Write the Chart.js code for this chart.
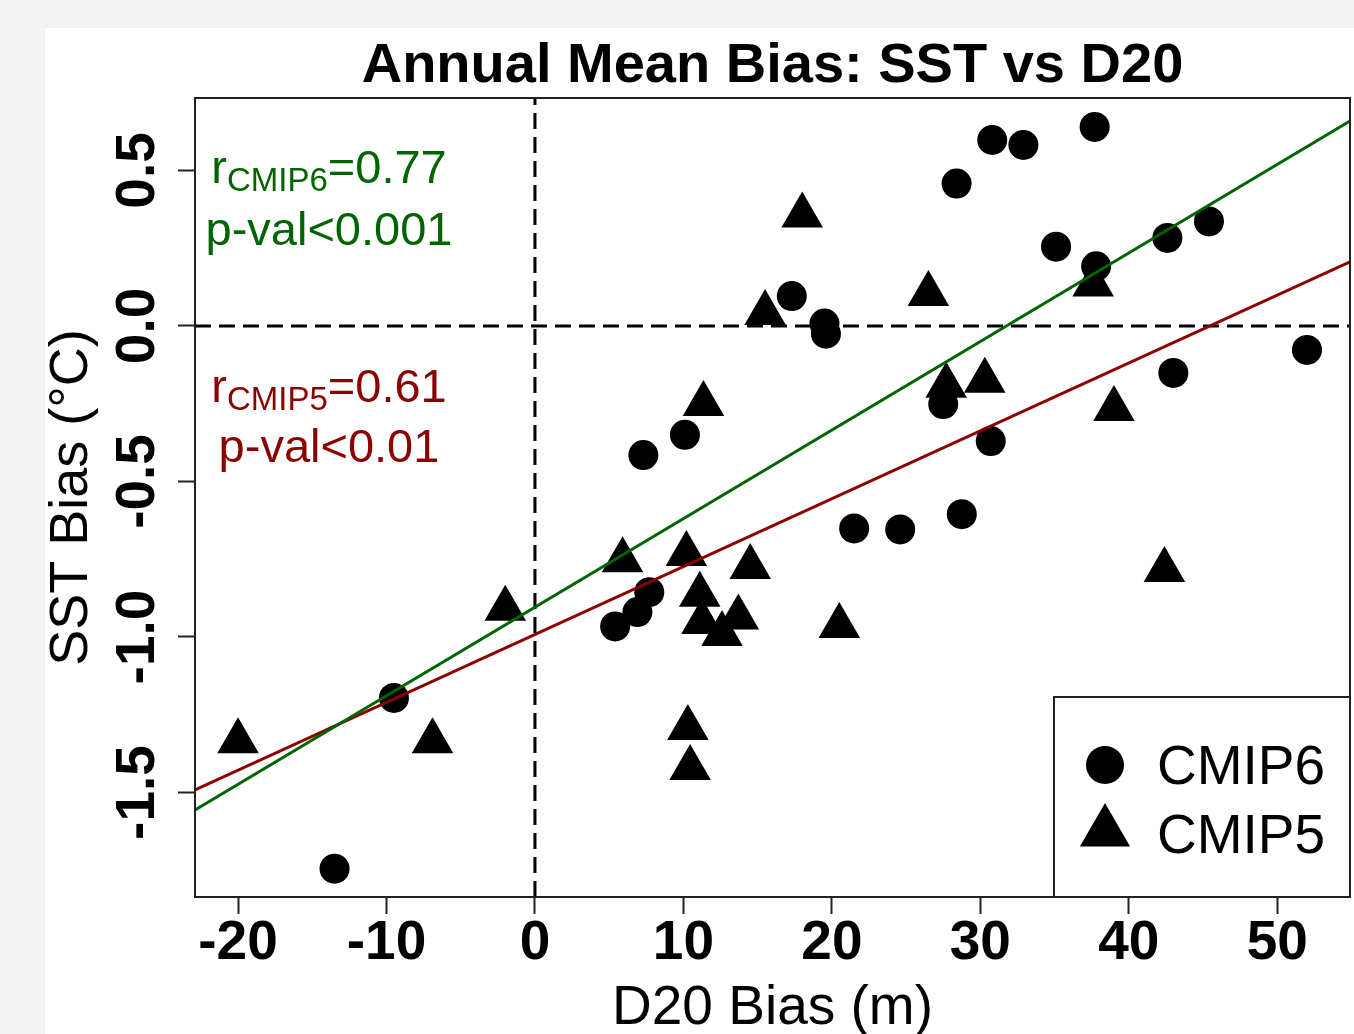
<!DOCTYPE html>
<html>
<head>
<meta charset="utf-8">
<script src="https://cdn.jsdelivr.net/npm/chart.js@4.4.1/dist/chart.umd.min.js"></script>
<style>
  html, body { margin: 0; padding: 0; background: #f2f2f2; overflow: hidden; }
  #panel { position: absolute; left: 45px; top: 28px; width: 1309px; height: 1006px; background: #fff; }
  #myChart { display: block; }
</style>
</head>
<body>
<div id="panel"><canvas id="myChart"></canvas></div>
<script>
// CMIP6 models (circles)
var cmip6X = [-13.5, -9.5, 5.4, 6.9, 7.7, 7.3, 10.1, 17.3, 19.5, 19.6, 21.5, 24.6, 28.4,
              28.75, 27.5, 30.7, 30.8, 32.9, 35.1, 37.7, 37.8, 42.6, 45.4, 43.0, 52.0];
var cmip6Y = [-1.745, -1.196, -0.966, -0.92, -0.856, -0.415, -0.350, 0.096, 0.008, -0.025, -0.651, -0.654, 0.458,
              -0.605, -0.251, -0.370, 0.598, 0.582, 0.255, 0.640, 0.192, 0.283, 0.336, -0.151, -0.077];

// CMIP5 models (triangles)
var cmip5X = [-20.0, -6.9, -2.0, 5.9, 10.2, 10.3, 10.45, 11.1, 11.25, 12.6, 13.7, 14.5, 11.35,
              15.5, 18.0, 20.5, 26.5, 27.7, 30.3, 37.6, 39.0, 42.4];
var cmip5Y = [-1.335, -1.335, -0.909, -0.753, -0.733, -1.293, -1.421, -0.864, -0.952, -0.990, -0.937, -0.775, -0.251,
              0.042, 0.355, -0.965, 0.103, -0.192, -0.176, 0.133, -0.267, -0.785];

// linear fits [CMIP6, CMIP5]
var fitSlope = [0.02847, 0.02182];
var fitIntercept = [-0.904, -0.992];
var fitColor = ['#006400', '#8b0000'];

var xTicks = [-20, -10, 0, 10, 20, 30, 40, 50];
var yTicks = [-1.5, -1.0, -0.5, 0.0, 0.5];
var xMin = -22.9, xMax = 54.9;
var yMin = -1.836, yMax = 0.733;

function pts(xs, ys) {
    return xs.map(function(x, i) { return {x: x, y: ys[i]}; });
}
function fitLine(k) {
    return [xMin, xMax].map(function(x) { return {x: x, y: fitIntercept[k] + fitSlope[k] * x}; });
}

var FONT = "'Liberation Sans', Arial, sans-serif";

var overlay = {
    id: 'overlay',
    afterDraw: function(chart) {
        var ctx = chart.ctx, a = chart.chartArea;
        ctx.save();
        // plot frame
        ctx.strokeStyle = '#222';
        ctx.lineWidth = 2;
        ctx.strokeRect(a.left, a.top, a.right - a.left, a.bottom - a.top);

        // correlation text
        function rLine(sub, val, color, cx, base) {
            ctx.fillStyle = color;
            ctx.textBaseline = 'alphabetic';
            ctx.textAlign = 'left';
            ctx.font = '47px ' + FONT;
            var w1 = ctx.measureText('r').width, w3 = ctx.measureText(val).width;
            ctx.font = '33px ' + FONT;
            var w2 = ctx.measureText(sub).width;
            var x = cx - (w1 + w2 + w3) / 2;
            ctx.font = '47px ' + FONT;
            ctx.fillText('r', x, base);
            ctx.font = '33px ' + FONT;
            ctx.fillText(sub, x + w1, base + 8);
            ctx.font = '47px ' + FONT;
            ctx.fillText(val, x + w1 + w2, base);
        }
        function pLine(txt, color, cx, base) {
            ctx.fillStyle = color;
            ctx.textAlign = 'center';
            ctx.textBaseline = 'alphabetic';
            ctx.font = '47px ' + FONT;
            ctx.fillText(txt, cx, base);
        }
        var cx = a.left + 134;
        rLine('CMIP6', '=0.77', fitColor[0], cx, a.top + 85);
        pLine('p-val<0.001', fitColor[0], cx, a.top + 147);
        rLine('CMIP5', '=0.61', fitColor[1], cx, a.top + 304);
        pLine('p-val<0.01', fitColor[1], cx, a.top + 364);

        // legend box
        var bw = 296, bh = 200;
        var bx = a.right - bw, by = a.bottom - bh;
        ctx.fillStyle = '#fff';
        ctx.fillRect(bx, by, bw, bh);
        ctx.strokeStyle = '#222';
        ctx.lineWidth = 2;
        ctx.strokeRect(bx, by, bw, bh);
        ctx.fillStyle = '#000';
        ctx.beginPath();
        ctx.arc(bx + 51, by + 68, 19, 0, Math.PI * 2);
        ctx.fill();
        var r = 29, tx = bx + 51, ty = by + 135;
        ctx.beginPath();
        ctx.moveTo(tx, ty - r);
        ctx.lineTo(tx + r * Math.sin(Math.PI * 2 / 3), ty + r / 2);
        ctx.lineTo(tx - r * Math.sin(Math.PI * 2 / 3), ty + r / 2);
        ctx.closePath();
        ctx.fill();
        ctx.font = '55px ' + FONT;
        ctx.textAlign = 'left';
        ctx.textBaseline = 'alphabetic';
        ctx.fillText('CMIP6', bx + 103, by + 87);
        ctx.fillText('CMIP5', bx + 103, by + 156);
        ctx.restore();
    }
};

var ctx = document.getElementById('myChart');
var myChart = new Chart(ctx, {
    type: 'scatter',
    data: {
        datasets: [
            {
                label: 'CMIP6 fit',
                type: 'line',
                data: fitLine(0),
                borderColor: fitColor[0],
                borderWidth: 3,
                pointRadius: 0,
                order: 1
            },
            {
                label: 'CMIP5 fit',
                type: 'line',
                data: fitLine(1),
                borderColor: fitColor[1],
                borderWidth: 3,
                pointRadius: 0,
                order: 1
            },
            {
                label: 'zero x',
                type: 'line',
                data: [{x: 0, y: yMin}, {x: 0, y: yMax}],
                borderColor: '#000',
                borderWidth: 3,
                borderDash: [16, 8],
                pointRadius: 0,
                order: 2
            },
            {
                label: 'zero y',
                type: 'line',
                data: [{x: xMin, y: 0}, {x: xMax, y: 0}],
                borderColor: '#000',
                borderWidth: 3,
                borderDash: [16, 8],
                pointRadius: 0,
                order: 2
            },
            {
                label: 'CMIP6',
                data: pts(cmip6X, cmip6Y),
                pointStyle: 'circle',
                pointRadius: 15,
                backgroundColor: '#000',
                borderColor: '#000',
                borderWidth: 0,
                order: 3
            },
            {
                label: 'CMIP5',
                data: pts(cmip5X, cmip5Y),
                pointStyle: 'triangle',
                pointRadius: 24,
                backgroundColor: '#000',
                borderColor: '#000',
                borderWidth: 0,
                order: 3
            }
        ]
    },
    options: {
        responsive: true,
        maintainAspectRatio: false,
        animation: false,
        layout: { autoPadding: false, padding: { left: 0, right: 4, top: 0, bottom: 0 } },
        plugins: {
            legend: { display: false },
            tooltip: { enabled: false },
            title: {
                display: true,
                text: 'Annual Mean Bias: SST vs D20',
                color: '#000',
                fullSize: false,
                font: { family: FONT, size: 56, weight: 'bold', lineHeight: 1 },
                padding: { top: 11, bottom: 3 }
            }
        },
        scales: {
            x: {
                type: 'linear',
                min: xMin,
                max: xMax,
                afterBuildTicks: function(axis) { axis.ticks = xTicks.map(function(v) { return {value: v}; }); },
                afterFit: function(axis) { axis.height = 137; },
                grid: { drawOnChartArea: false, drawTicks: true, tickLength: 17, tickColor: '#222', tickWidth: 2 },
                border: { display: false },
                ticks: {
                    color: '#000',
                    padding: -3,
                    maxRotation: 0,
                    font: { family: FONT, size: 55, weight: 'bold' },
                    callback: function(v) { return String(v); }
                },
                title: {
                    display: true,
                    text: 'D20 Bias (m)',
                    color: '#000',
                    font: { family: FONT, size: 55, lineHeight: 1 },
                    padding: { top: 0, bottom: -2 }
                }
            },
            y: {
                type: 'linear',
                min: yMin,
                max: yMax,
                afterBuildTicks: function(axis) { axis.ticks = yTicks.map(function(v) { return {value: v}; }); },
                afterFit: function(axis) { axis.width = 150; },
                grid: { drawOnChartArea: false, drawTicks: true, tickLength: 17, tickColor: '#222', tickWidth: 2 },
                border: { display: false },
                ticks: {
                    color: '#000',
                    minRotation: 90,
                    maxRotation: 90,
                    crossAlign: 'center',
                    padding: -8,
                    font: { family: FONT, size: 55, weight: 'bold' },
                    callback: function(v) { return v.toFixed(1); }
                },
                title: {
                    display: true,
                    text: 'SST Bias (°C)',
                    color: '#000',
                    font: { family: FONT, size: 54, lineHeight: 1 },
                    padding: { top: 0, bottom: 0 }
                }
            }
        }
    },
    plugins: [overlay]
});
</script>
</body>
</html>
